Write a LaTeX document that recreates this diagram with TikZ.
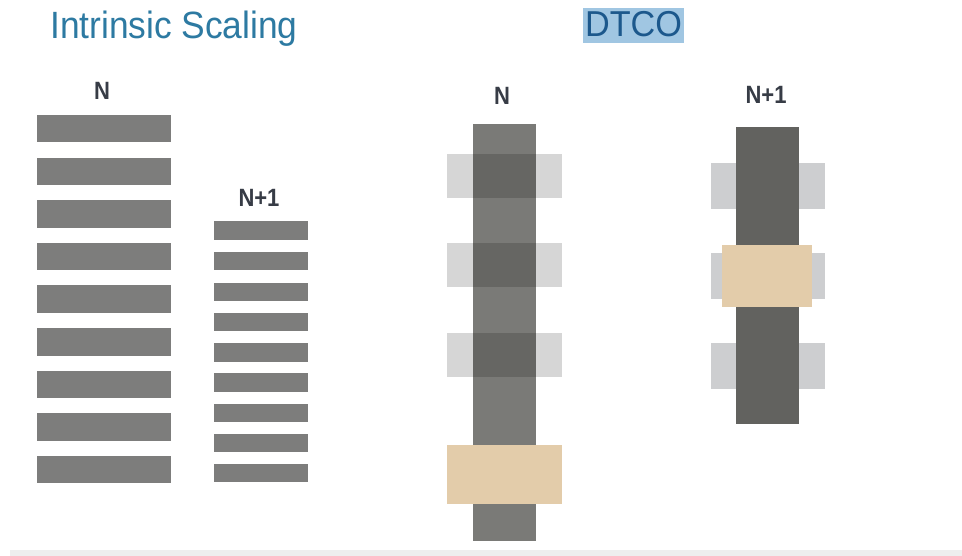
\documentclass[tikz,border=0pt]{standalone}
\usepackage{fontspec}
\setmainfont{Liberation Sans}
\definecolor{titleblue}{RGB}{45,122,162}
\definecolor{dtcoblue}{RGB}{28,88,140}
\definecolor{dtcohl}{RGB}{160,198,226}
\definecolor{lblgray}{RGB}{55,60,70}
\definecolor{barA}{RGB}{125,125,124}
\definecolor{barN}{RGB}{122,122,119}
\definecolor{barM}{RGB}{98,98,95}
\definecolor{padgray}{RGB}{205,206,208}
\definecolor{tan}{RGB}{227,204,170}
\definecolor{footgray}{RGB}{238,238,238}
\tikzset{
  lbl/.style={inner sep=0pt, anchor=base, text=lblgray, font=\fontsize{25}{25}\selectfont\bfseries},
  hbar/.style={fill=barA},
  pad/.style={fill=black, fill opacity=0.16},
  padB/.style={fill=padgray},
  tanbox/.style={fill=tan},
}
\begin{document}
\begin{tikzpicture}[x=1pt,y=-1pt]
\useasboundingbox (0,0) rectangle (962,556);
\fill[white] (0,0) rectangle (962,556);
% titles
\node[inner sep=0pt, anchor=base west, text=titleblue, font=\fontsize{38}{38}\selectfont] (t1) at (50,38.5) {\scalebox{0.93}[1]{Intrinsic Scaling}};
\fill[dtcohl] (583,8) rectangle (684,43);
\node[inner sep=0pt, anchor=base, text=dtcoblue, font=\fontsize{36}{36}\selectfont] (t2) at (633.5,37) {\scalebox{0.95}[1]{DTCO}};
% labels
\node[lbl] (l1) at (102,100) {\scalebox{0.88}[1]{N}};
\node[lbl] (l2) at (259,207) {\scalebox{0.88}[1]{N+1}};
\node[lbl] (l3) at (502,105) {\scalebox{0.88}[1]{N}};
\node[lbl] (l4) at (766,104) {\scalebox{0.88}[1]{N+1}};
% intrinsic N bars
\foreach \y in {115,157.6,200.2,242.8,285.4,328,370.6,413.2,455.8}
  \fill[hbar] (37,\y) rectangle (171,\y+27.5);
% intrinsic N+1 bars
\foreach \y in {221.5,251.6,282.8,313,343.2,373.4,403.6,433.8,463.5}
  \fill[hbar] (214,\y) rectangle (308,\y+18.5);
% DTCO N
\fill[barN] (473,124) rectangle (536,541);
\foreach \y in {154,243,333}
  \fill[pad] (447,\y) rectangle (562,\y+44);
\fill[tanbox] (447,445) rectangle (562,504);
% DTCO N+1
\foreach \y in {163,253,343}
  \fill[padB] (711,\y) rectangle (825,\y+46);
\fill[barM] (736,127) rectangle (799,424);
\fill[tanbox] (722,245) rectangle (812,307);
% footer line
\fill[footgray] (10,550) rectangle (962,556);
\end{tikzpicture}
\end{document}
